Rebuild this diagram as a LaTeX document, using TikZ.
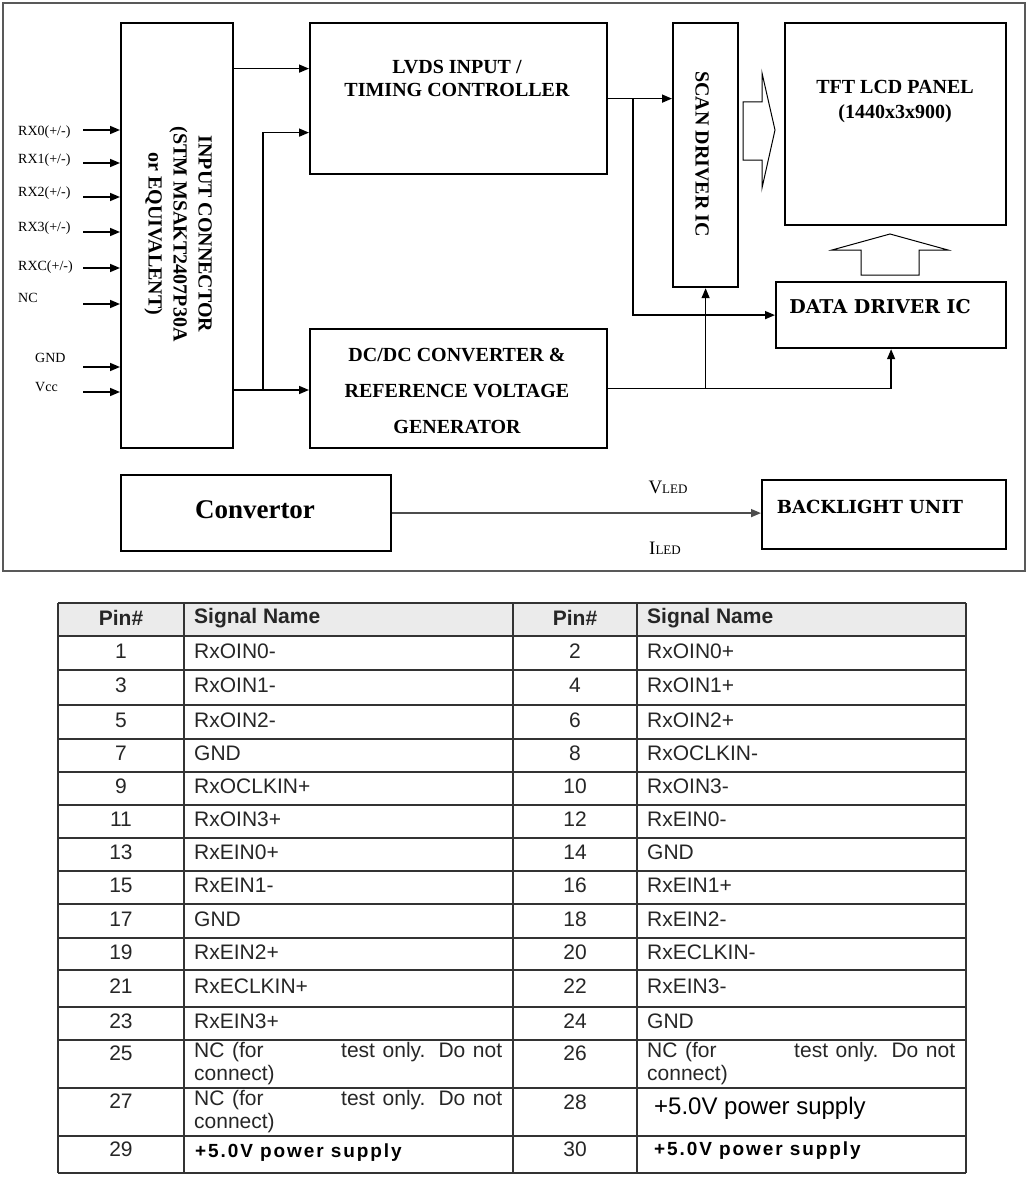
\documentclass[tikz,border=0pt]{standalone}
\usepackage{fontspec}
\setmainfont{Liberation Serif}
\newfontfamily\tabfont{Liberation Sans}
\newfontfamily\widefont{DejaVu Serif}
\newfontfamily\spacedfont[LetterSpace=10]{Liberation Sans}
\usetikzlibrary{arrows.meta, positioning}

\begin{document}
\begin{tikzpicture}[x=1pt, y=-1pt,
    box/.style={draw, line width=2.2pt, inner sep=0pt},
    lbl/.style={font=\bfseries\fontsize{20}{23}\selectfont, align=center, inner sep=0pt},
    arr/.style={-{Triangle[length=10pt,width=8pt]}, line width=1.5pt},
    inlbl/.style={font=\fontsize{14}{16}\selectfont, anchor=west, inner sep=0pt},
    cell/.style={font=\tabfont\fontsize{21}{23}\selectfont, inner sep=0pt, text=black!85}]
\useasboundingbox (0,0) rectangle (1028,1180);

% outer frame of the block diagram
\draw[black!65, line width=1.3pt] (3,3) rectangle (1025,571);

% blocks
\node[box, minimum width=112, minimum height=425, anchor=north west] (conn) at (120,22) {};
\node[box, minimum width=297, minimum height=151, anchor=north west] (lvds) at (309,22) {};
\node[box, minimum width=297, minimum height=119, anchor=north west] (dcdc) at (309,328) {};
\node[box, minimum width=65, minimum height=264, anchor=north west] (scan) at (672,22) {};
\node[box, minimum width=221, minimum height=202, anchor=north west] (tft) at (784,22) {};
\node[box, minimum width=230, minimum height=66, anchor=north west] (ddrv) at (775,281) {};
\node[box, minimum width=270, minimum height=76, anchor=north west] (conv) at (120,474) {};
\node[box, minimum width=244, minimum height=69, anchor=north west] (blu) at (761,479) {};

% block texts
\node[lbl, rotate=-90, font=\bfseries\fontsize{20}{25}\selectfont] (connT) at (178,234)
  {INPUT CONNECTOR\\(STM MSAKT2407P30A\\or EQUIVALENT)};
\node[lbl] (lvdsT) at (457,78) {LVDS INPUT /\\TIMING CONTROLLER};
\node[lbl, font=\bfseries\fontsize{20}{36}\selectfont] (dcdcT) at (457,391)
  {DC/DC CONVERTER \&\\REFERENCE VOLTAGE\\GENERATOR};
\node[lbl, rotate=-90] (scanT) at (702,154) {SCAN DRIVER IC};
\node[lbl, font=\bfseries\fontsize{20}{25}\selectfont] (tftT) at (895,102) {TFT LCD PANEL\\(1440x3x900)};
\node[lbl, font=\widefont\bfseries\fontsize{19}{22}\selectfont] (ddrvT) at (880,307) {DATA DRIVER IC};
\node[lbl, font=\widefont\bfseries\fontsize{18}{22}\selectfont] (bluT) at (870,507) {BACKLIGHT UNIT};
\node[lbl, font=\bfseries\fontsize{27}{30}\selectfont] (convT) at (255,510) {Convertor};
\node[inner sep=0pt, font=\fontsize{19}{20}\selectfont] (vled) at (668,487) {V{\fontsize{13}{14}\selectfont LED}};
\node[inner sep=0pt, font=\fontsize{19}{20}\selectfont] (iled) at (665,548) {I{\fontsize{13}{14}\selectfont LED}};

% hollow block arrows
\draw[line width=1pt] (743,102) -- (762,102) -- (762,73) -- (775,130) -- (762,188) -- (762,160) -- (743,160) -- cycle;
\draw[line width=1pt] (861,275) -- (861,250) -- (832,250) -- (890,234) -- (948,250) -- (919,250) -- (919,275) -- cycle;

% input signals
\foreach \i/\txt/\lx/\ly/\ay in {0/{RX0(+/-)}/18/132/130, 1/{RX1(+/-)}/18/160/163, 2/{RX2(+/-)}/18/193/197,
    3/{RX3(+/-)}/18/228/232, 4/{RXC(+/-)}/18/267/268, 5/NC/18/298/304, 6/GND/35/358/367, 7/Vcc/35/387/392}{
  \node[inlbl] (in\i) at (\lx,\ly) {\txt};
  \coordinate (src\i) at (83,\ay);
  \draw[arr] (src\i) -- (conn.west |- src\i);
}

% connectors
\coordinate (tapA) at (263,390);
\coordinate (lvdsA) at ([yshift=30pt]lvds.west);
\draw[arr] (conn.east |- lvdsA) -- (lvdsA);
\draw[arr] (conn.east |- tapA) -- (dcdc.west |- tapA);
\draw[arr] (tapA) |- ([yshift=-34pt]lvds.west);
\draw[arr] (lvds.east) -- (scan.west |- lvds.east);
\draw[arr] ([xshift=25pt]lvds.east) |- (ddrv.west);
\draw[arr] (dcdc.east) -| (ddrv.south);
\draw[arr] (dcdc.east -| scan.south) -- (scan.south);
\draw[arr, black!70, line width=1.6pt] (conv.east) -- (blu.west |- conv.east);

% pin table
\fill[black!8] (58,603) rectangle (966,636);
\foreach \y in {603,636,670,705,739,772,805,838,871,904,938,970,1007,1040,1088,1136,1173}
  \draw[black!80, line width=1.4pt] (58,\y) -- (966,\y);
\foreach \x in {58,184,513,637,966}
  \draw[black!80, line width=1.4pt] (\x,603) -- (\x,1173);

\node[cell, font=\tabfont\bfseries\fontsize{21}{23}\selectfont] (hpinL) at (121,618) {Pin\#};
\node[cell, font=\tabfont\bfseries\fontsize{21}{23}\selectfont, anchor=west] (hsigL) at (194,618) {Signal Name};
\node[cell, font=\tabfont\bfseries\fontsize{21}{23}\selectfont] (hpinR) at (575,618) {Pin\#};
\node[cell, font=\tabfont\bfseries\fontsize{21}{23}\selectfont, anchor=west] (hsigR) at (647,618) {Signal Name};

\foreach \lp/\ls/\rp/\rs/\y in {1/RxOIN0-/2/RxOIN0+/651, 3/RxOIN1-/4/RxOIN1+/685, 5/RxOIN2-/6/RxOIN2+/720,
    7/GND/8/RxOCLKIN-/753, 9/RxOCLKIN+/10/RxOIN3-/786, 11/RxOIN3+/12/RxEIN0-/819,
    13/RxEIN0+/14/GND/852, 15/RxEIN1-/16/RxEIN1+/885, 17/GND/18/RxEIN2-/919,
    19/RxEIN2+/20/RxECLKIN-/952, 21/RxECLKIN+/22/RxEIN3-/986, 23/RxEIN3+/24/GND/1021}{
  \node[cell] (pl\lp) at (121,\y) {\lp};
  \node[cell, anchor=west] (sl\lp) at (194,\y) {\ls};
  \node[cell] (pr\rp) at (575,\y) {\rp};
  \node[cell, anchor=west] (sr\rp) at (647,\y) {\rs};
}

\node[cell] (pl25) at (121,1053) {25};
\node[cell, anchor=west, align=left] (sl25) at (194,1064)
  {\makebox[308pt][s]{NC (for\hspace{70pt} test only. Do not}\\connect)};
\node[cell] (pr26) at (575,1053) {26};
\node[cell, anchor=west, align=left] (sr26) at (647,1064)
  {\makebox[308pt][s]{NC (for\hspace{70pt} test only. Do not}\\connect)};
\node[cell] (pl27) at (121,1101) {27};
\node[cell, anchor=west, align=left] (sl27) at (194,1112)
  {\makebox[308pt][s]{NC (for\hspace{70pt} test only. Do not}\\connect)};
\node[cell] (pr28) at (575,1102) {28};
\node[cell, anchor=west, text=black, font=\tabfont\fontsize{24}{26}\selectfont] (sr28) at (654,1108) {+5.0V power supply};
\node[cell] (pl29) at (121,1149) {29};
\node[cell, anchor=west, text=black, font=\spacedfont\bfseries\fontsize{19}{21}\selectfont] (sl29) at (195,1153) {+5.0V power supply};
\node[cell] (pr30) at (575,1149) {30};
\node[cell, anchor=west, text=black, font=\spacedfont\bfseries\fontsize{19}{21}\selectfont] (sr30) at (654,1151) {+5.0V power supply};
\end{tikzpicture}
\end{document}
